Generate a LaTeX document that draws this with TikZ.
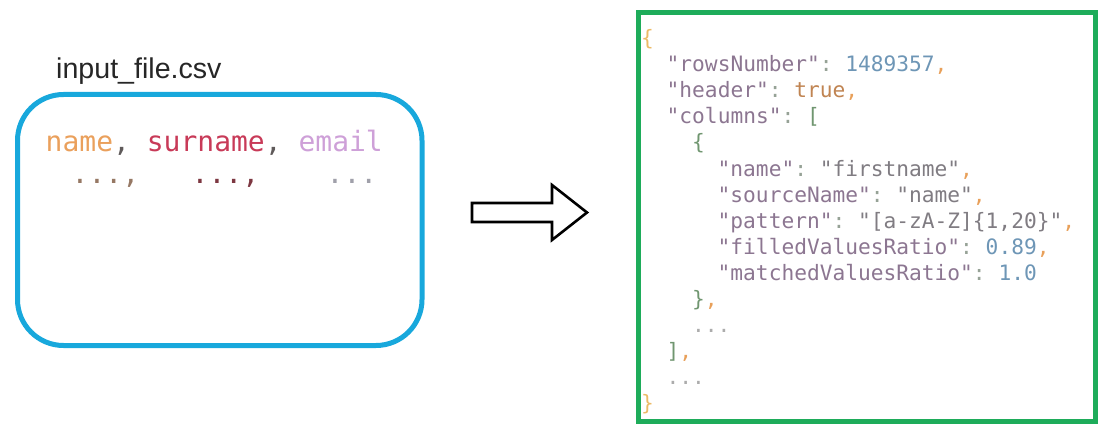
\documentclass[tikz,border=0pt]{standalone}
\usepackage{fontspec}
\setmainfont{Liberation Sans}
\setmonofont{DejaVu Sans Mono}

% palette
\definecolor{csvblue}{RGB}{24,168,220}
\definecolor{jsongreen}{RGB}{30,172,90}
\definecolor{cname}{RGB}{234,160,92}
\definecolor{csur}{RGB}{200,58,88}
\definecolor{cmail}{RGB}{206,160,216}
\definecolor{ccomma}{RGB}{95,90,90}
\definecolor{dotA}{RGB}{150,120,100}
\definecolor{dotB}{RGB}{125,55,65}
\definecolor{dotC}{RGB}{160,160,170}
\definecolor{jkey}{RGB}{140,118,145}
\definecolor{jstr}{RGB}{128,124,130}
\definecolor{jcolon}{RGB}{150,162,150}
\definecolor{jnum}{RGB}{110,150,182}
\definecolor{jbool}{RGB}{192,132,82}
\definecolor{jpunct}{RGB}{232,160,90}
\definecolor{jbrack}{RGB}{112,150,112}
\definecolor{jouter}{RGB}{236,186,102}
\definecolor{jdots}{RGB}{172,172,172}

% JSON token helpers
\newcommand\JKey[1]{\textcolor{jkey}{"#1"}\textcolor{jcolon}{:}}
\newcommand\JStr[1]{\textcolor{jstr}{"#1"}}
\newcommand\JNum[1]{\textcolor{jnum}{#1}}
\newcommand\JCom{\textcolor{jpunct}{,}}

\begin{document}
\begin{tikzpicture}[x=1pt,y=-1pt,
  box/.style={draw,line width=5pt,inner sep=0pt},
  csvtext/.style={anchor=base west,inner sep=0pt,
    font=\ttfamily\fontsize{28}{34}\selectfont},
  jsonline/.style={anchor=base west,inner sep=0pt,
    font=\ttfamily\fontsize{21.2}{26}\selectfont},
  blockarrow/.style={draw=black,line width=2.6pt,line join=miter,fill=white}]

\useasboundingbox (0,0) rectangle (1101,425);

% ---- input CSV file ----
\node[anchor=base west,inner sep=0pt,text=black!85,
      font=\fontsize{28.6}{33}\selectfont] (fname) at (56,79) {input\_file.csv};
\node[box,draw=csvblue,rounded corners=46pt,
      minimum width=404.5pt,minimum height=251pt] (csvbox) at (219.75,220) {};

\node[csvtext] (hdr) at (45.5,152)
  {\textcolor{cname}{name}\textcolor{ccomma}{,} \textcolor{csur}{surname}\textcolor{ccomma}{,} \textcolor{cmail}{email}};
\node[csvtext,text=dotA] (r1) at (71.5,183) {...,};
\node[csvtext,text=dotB] (r2) at (191.5,183) {...,};
\node[csvtext,text=dotC] (r3) at (326.5,183) {...};

% ---- transformation arrow ----
\coordinate (a1) at (472,203);
\coordinate (a2) at (552,203);
\coordinate (a3) at (552,185);
\coordinate (tip) at (587,212.5);
\coordinate (a5) at (552,240);
\coordinate (a6) at (552,222);
\coordinate (a7) at (472,222);
\draw[blockarrow] (a1) -- (a2) -- (a3) -- (tip) -- (a5) -- (a6) -- (a7) -- cycle;

% ---- resulting JSON profile ----
\node[box,draw=jsongreen,minimum width=457pt,minimum height=408.5pt]
  (jsonbox) at (866.5,216.75) {};

\def\cw{12.75}
\def\lh{26}
\def\xo{641}
\def\yo{46}
\node[jsonline] (j1)  at (\xo,\yo) {\textcolor{jouter}{\{}};
\node[jsonline] (j2)  at (\xo+2*\cw,\yo+1*\lh) {\JKey{rowsNumber} \JNum{1489357}\JCom};
\node[jsonline] (j3)  at (\xo+2*\cw,\yo+2*\lh) {\JKey{header} \textcolor{jbool}{true}\JCom};
\node[jsonline] (j4)  at (\xo+2*\cw,\yo+3*\lh) {\JKey{columns} \textcolor{jbrack}{[}};
\node[jsonline] (j5)  at (\xo+4*\cw,\yo+4*\lh) {\textcolor{jbrack}{\{}};
\node[jsonline] (j6)  at (\xo+6*\cw,\yo+5*\lh) {\JKey{name} \JStr{firstname}\JCom};
\node[jsonline] (j7)  at (\xo+6*\cw,\yo+6*\lh) {\JKey{sourceName} \JStr{name}\JCom};
\node[jsonline] (j8)  at (\xo+6*\cw,\yo+7*\lh) {\JKey{pattern} \JStr{[a-zA-Z]\{1,20\}}\JCom};
\node[jsonline] (j9)  at (\xo+6*\cw,\yo+8*\lh) {\JKey{filledValuesRatio} \JNum{0.89}\JCom};
\node[jsonline] (j10) at (\xo+6*\cw,\yo+9*\lh) {\JKey{matchedValuesRatio} \JNum{1.0}};
\node[jsonline] (j11) at (\xo+4*\cw,\yo+10*\lh) {\textcolor{jbrack}{\}}\JCom};
\node[jsonline,text=jdots] (j12) at (\xo+4*\cw,\yo+11*\lh) {...};
\node[jsonline] (j13) at (\xo+2*\cw,\yo+12*\lh) {\textcolor{jbrack}{]}\JCom};
\node[jsonline,text=jdots] (j14) at (\xo+2*\cw,\yo+13*\lh) {...};
\node[jsonline] (j15) at (\xo,\yo+14*\lh) {\textcolor{jouter}{\}}};
\end{tikzpicture}
\end{document}
